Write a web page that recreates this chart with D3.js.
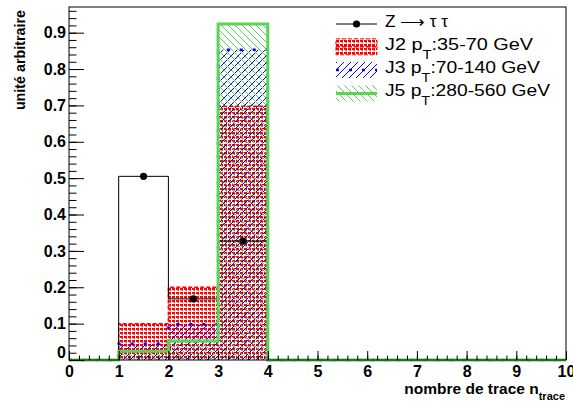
<!DOCTYPE html>
<html><head><meta charset="utf-8">
<script src="https://cdn.jsdelivr.net/npm/d3@7"></script>
<style>
body{margin:0;background:#fff}
svg{display:block}
text{font-family:"Liberation Sans",Arial,Helvetica,sans-serif}
</style>
</head><body>
<svg id="c" width="573" height="402"></svg>
<script>
// ---- data ----
const binEdges = [0,1,2,3,4,5,6,7,8,9,10];
const zTauTau = [0,0.505,0.168,0.327,0,0,0,0,0,0];
const j2 = [0,0.100,0.200,0.698,0,0,0,0,0,0];
const j3 = [0,0.045,0.098,0.853,0,0,0,0,0,0];
const j5 = [0,0.024,0.052,0.924,0,0,0,0,0,0];
const xTicks = [0,1,2,3,4,5,6,7,8,9,10];
const xTickLabels = ["0","1","2","3","4","5","6","7","8","9","10"];
const yTicks = [0,0.1,0.2,0.3,0.4,0.5,0.6,0.7,0.8,0.9];
const yTickLabels = ["0","0.1","0.2","0.3","0.4","0.5","0.6","0.7","0.8","0.9"];
const legendMain = ["Z","J2 p","J3 p","J5 p"];
const legendSub = ["","T","T","T"];
const legendRest = ["",":35-70 GeV",":70-140 GeV",":280-560 GeV"];
const xTitle = "nombre de trace n";
const xTitleSub = "trace";
const yTitle = "unité arbitraire";

// ---- layout ----
const svg = d3.select("#c");
const x = d3.scaleLinear().domain([0,10]).range([69,566]);
const y = d3.scaleLinear().domain([0,0.9706]).range([360,7]);
const green = "#59d454";

// patterns
const defs = svg.append("defs");
const pRed = defs.append("pattern").attr("id","pRed").attr("patternUnits","userSpaceOnUse")
  .attr("width",4).attr("height",4);
pRed.append("rect").attr("x",0).attr("y",0).attr("width",3).attr("height",2).attr("fill","#ff0000");
pRed.append("rect").attr("x",1.5).attr("y",2).attr("width",1.5).attr("height",1.2).attr("fill","#ff4040");
const pBlue = defs.append("pattern").attr("id","pBlue").attr("patternUnits","userSpaceOnUse")
  .attr("width",7).attr("height",7);
pBlue.append("path").attr("d","M0,7L7,0M-1,1L1,-1M6,8L8,6").attr("stroke","#0000ff").attr("stroke-width",1).attr("fill","none");
const pGreen = defs.append("pattern").attr("id","pGreen").attr("patternUnits","userSpaceOnUse")
  .attr("width",7).attr("height",7);
pGreen.append("path").attr("d","M0,0L7,7M-1,6L1,8M6,-1L8,1").attr("stroke",green).attr("stroke-width",1).attr("fill","none");

function pts(vals){
  const p = vals.map((v,i)=>[binEdges[i],v]);
  p.push([binEdges[binEdges.length-1], vals[vals.length-1]]);
  return p;
}
const area = d3.area().curve(d3.curveStepAfter).x(d=>x(d[0])).y0(y(0)).y1(d=>y(d[1]));
function outline(vals){
  const r=[[binEdges[0],0]];
  vals.forEach((v,i)=>{ r.push([binEdges[i],v]); r.push([binEdges[i+1],v]); });
  r.push([binEdges[binEdges.length-1],0]);
  return d3.line().x(d=>x(d[0])).y(d=>y(d[1]))(r);
}

// fills
svg.append("path").attr("d",area(pts(j2))).attr("fill","url(#pRed)");
svg.append("path").attr("d",area(pts(j3))).attr("fill","url(#pBlue)");
svg.append("path").attr("d",area(pts(j5))).attr("fill","url(#pGreen)");

// outlines
svg.append("path").attr("d",outline(j2)).attr("fill","none").attr("stroke","#ff0000")
  .attr("stroke-width",1.5).attr("stroke-dasharray","4,2");
svg.append("path").attr("d",outline(j3)).attr("fill","none").attr("stroke","#0000ff")
  .attr("stroke-width",2.5).attr("stroke-dasharray","3,10");
svg.append("path").attr("d",outline(zTauTau)).attr("fill","none").attr("stroke","#000")
  .attr("stroke-width",1);
svg.append("path").attr("d",outline(j5)).attr("fill","none").attr("stroke",green)
  .attr("stroke-width",3);

// Z markers
svg.selectAll("circle.zm").data(zTauTau.map((v,i)=>({c:(binEdges[i]+binEdges[i+1])/2,v})).filter(d=>d.v>0))
  .enter().append("circle").attr("class","zm")
  .attr("cx",d=>x(d.c)).attr("cy",d=>y(d.v)).attr("r",3.6).attr("fill","#000");

// frame
svg.append("rect").attr("x",69).attr("y",7).attr("width",566-69).attr("height",360-7)
  .attr("fill","none").attr("stroke","#000").attr("stroke-width",1);

// y axis
const yMinor = d3.range(0,0.9706,0.02);
const gyMin = svg.append("g").attr("transform","translate(69,0)")
  .call(d3.axisLeft(y).tickValues(yMinor).tickSize(-7.5).tickFormat(""));
const gy = svg.append("g").attr("transform","translate(69,0)")
  .call(d3.axisLeft(y).tickValues(yTicks).tickSize(-15).tickPadding(3)
    .tickFormat((d,i)=>yTickLabels[i]));
[gyMin,gy].forEach(g=>{g.select(".domain").remove(); g.selectAll("line").attr("stroke","#000");});
gy.selectAll("text").attr("font-size",16).attr("font-weight","bold").attr("fill","#000")
  .attr("font-family","'Liberation Sans',Arial,sans-serif");
gy.selectAll(".tick").filter(d=>d===0).select("text").attr("y",-8);

// x axis
const xMinor = d3.range(0,10.001,0.2);
const gxMin = svg.append("g").attr("transform","translate(0,360)")
  .call(d3.axisBottom(x).tickValues(xMinor).tickSize(-4.5).tickFormat(""));
const gx = svg.append("g").attr("transform","translate(0,360)")
  .call(d3.axisBottom(x).tickValues(xTicks).tickSize(-9).tickPadding(5.5)
    .tickFormat((d,i)=>xTickLabels[i]));
[gxMin,gx].forEach(g=>{g.select(".domain").remove(); g.selectAll("line").attr("stroke","#000");});
gx.selectAll("text").attr("font-size",16).attr("font-weight","bold").attr("fill","#000")
  .attr("font-family","'Liberation Sans',Arial,sans-serif");

// axis titles
const xt = svg.append("text").attr("x",565).attr("y",394).attr("text-anchor","end")
  .attr("font-size",15.5).attr("font-weight","bold").text(xTitle);
xt.append("tspan").attr("dy",6).attr("font-size",11).text(xTitleSub);
svg.append("text").attr("transform","translate(25,10) rotate(-90)").attr("text-anchor","end")
  .attr("font-size",14.3).attr("font-weight","bold").text(yTitle);

// legend
const legCenters = [24,46.8,70,93.5];
const legWidths = [63,148,155,165];
const lx0 = 336, lx1 = 377;
// Z entry
svg.append("line").attr("x1",lx0).attr("x2",lx1).attr("y1",legCenters[0]).attr("y2",legCenters[0])
  .attr("stroke","#000").attr("stroke-width",1);
svg.append("circle").attr("cx",(lx0+lx1)/2).attr("cy",legCenters[0]).attr("r",3.6).attr("fill","#000");
// J2
svg.append("rect").attr("x",lx0).attr("y",legCenters[1]-8).attr("width",lx1-lx0).attr("height",16)
  .attr("fill","url(#pRed)").attr("stroke","#ff0000").attr("stroke-width",1).attr("stroke-dasharray","4,2");
svg.append("line").attr("x1",lx0).attr("x2",lx1).attr("y1",legCenters[1]).attr("y2",legCenters[1])
  .attr("stroke","#ff0000").attr("stroke-width",1.5).attr("stroke-dasharray","4,2");
// J3
svg.append("rect").attr("x",lx0).attr("y",legCenters[2]-8).attr("width",lx1-lx0).attr("height",16)
  .attr("fill","url(#pBlue)");
svg.append("line").attr("x1",lx0).attr("x2",lx1).attr("y1",legCenters[2]).attr("y2",legCenters[2])
  .attr("stroke","#0000ff").attr("stroke-width",2.5).attr("stroke-dasharray","3,10");
// J5
svg.append("rect").attr("x",lx0).attr("y",legCenters[3]-8).attr("width",lx1-lx0).attr("height",16)
  .attr("fill","url(#pGreen)");
svg.append("line").attr("x1",lx0).attr("x2",lx1).attr("y1",legCenters[3]).attr("y2",legCenters[3])
  .attr("stroke",green).attr("stroke-width",3);

// legend texts
legendMain.forEach((m,i)=>{
  const t = svg.append("text").attr("x",385).attr("y",legCenters[i]+2.8).attr("font-size",16)
    .attr("fill","#000").attr("textLength",legWidths[i]).attr("lengthAdjust","spacingAndGlyphs");
  if(i===0){
    t.text("Z \u27f6 \u03c4 \u03c4");
  } else {
    t.append("tspan").text(m);
    t.append("tspan").attr("dy",9).attr("font-size",12).text(legendSub[i]);
    t.append("tspan").attr("dy",-9).text(legendRest[i]);
  }
});
</script>
</body></html>
